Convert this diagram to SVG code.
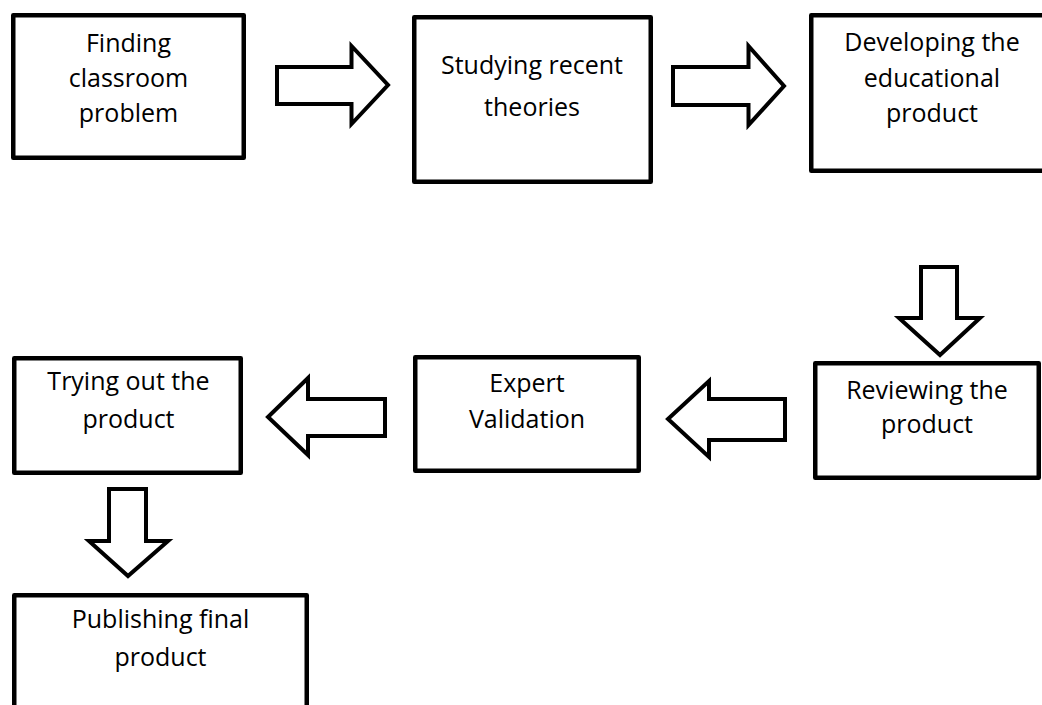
<svg xmlns="http://www.w3.org/2000/svg" width="1042" height="705" viewBox="0 0 1042 705">
<style>
.box{fill:#fff;stroke:#000;stroke-width:4.5;stroke-linejoin:round}
.arr{fill:#fff;stroke:#000;stroke-width:4;stroke-linejoin:miter;stroke-miterlimit:10}
text{font-family:"Open Sans","Noto Sans","Liberation Sans",sans-serif;font-size:25px;fill:#000;text-anchor:middle}
</style>
<rect width="1042" height="705" fill="#fff"/>
<g id="connectors">
<polygon class="arr" points="277,67 351.5,67 351.5,46 388,85 351.5,124 351.5,104 277,104"/>
<polygon class="arr" points="673,67 748.5,67 748.5,46 784,86 748.5,125 748.5,105 673,105"/>
<polygon class="arr" points="921,267 957,267 957,318 980,318 940,355 899,318 921,318"/>
<polygon class="arr" points="785,399 709,399 709,381 668,419 709,457 709,440 785,440"/>
<polygon class="arr" points="385,399 308,399 308,378 268,417 308,455 308,436 385,436"/>
<polygon class="arr" points="109,489 146,489 146,541 168,541 128,576 89,541 109,541"/>
</g>
<g id="n1">
<rect class="box" x="13.25" y="15.25" width="230.5" height="142.5"/>
<text x="128.5" y="52">Finding</text>
<text x="128.5" y="87">classroom</text>
<text x="128.5" y="122">problem</text>
</g>
<g id="n2">
<rect class="box" x="414.25" y="17.25" width="236.5" height="164.5"/>
<text x="532" y="74">Studying recent</text>
<text x="532" y="116">theories</text>
</g>
<g id="n3">
<rect class="box" x="811.25" y="15.25" width="260" height="155.5"/>
<text x="932" y="51">Developing the</text>
<text x="932" y="87">educational</text>
<text x="932" y="122">product</text>
</g>
<g id="n4">
<rect class="box" x="815.25" y="363.25" width="223.5" height="114.5"/>
<text x="927" y="399">Reviewing the</text>
<text x="927" y="433">product</text>
</g>
<g id="n5">
<rect class="box" x="415.25" y="357.25" width="223.5" height="113.5"/>
<text x="527" y="392">Expert</text>
<text x="527" y="428">Validation</text>
</g>
<g id="n6">
<rect class="box" x="14.25" y="358.25" width="226.5" height="114.5"/>
<text x="128.5" y="390">Trying out the</text>
<text x="128.5" y="428">product</text>
</g>
<g id="n7">
<rect class="box" x="14.25" y="595.25" width="292.5" height="200"/>
<text x="160.5" y="628">Publishing final</text>
<text x="160.5" y="666">product</text>
</g>
</svg>
